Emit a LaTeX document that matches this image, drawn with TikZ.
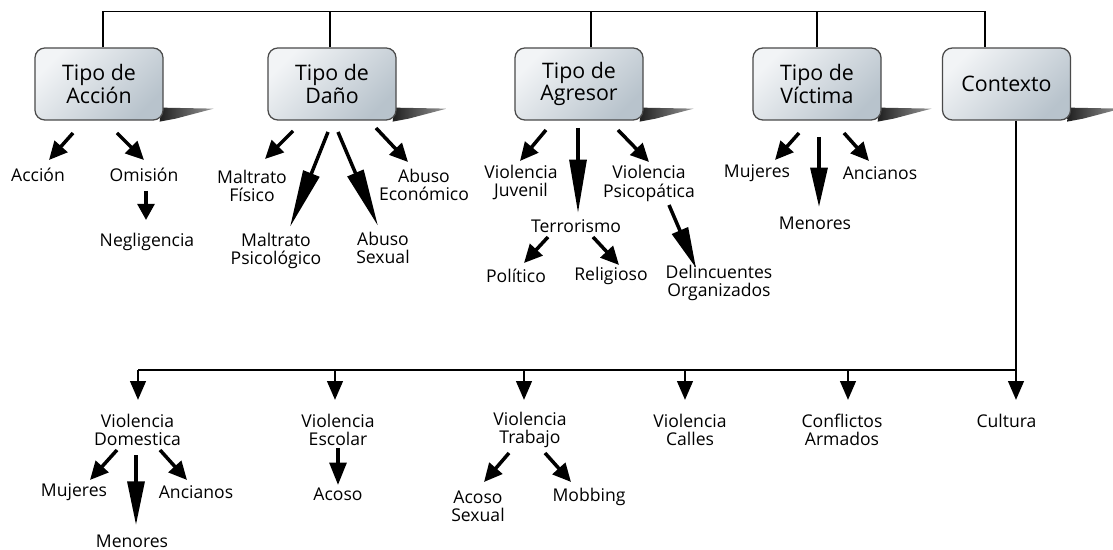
\documentclass[tikz,border=0pt]{standalone}
\usepackage{fontspec}
\setmainfont{Open Sans}
\usetikzlibrary{arrows.meta}
\pgfdeclarelayer{bg}
\pgfsetlayers{bg,main}
\definecolor{boxlight}{HTML}{F2F4F6}
\definecolor{boxdark}{HTML}{B8C3CC}
\definecolor{boxline}{HTML}{4A4A4A}

\tikzset{
    tipo/.style={draw=boxline,line width=0.9pt,rounded corners=7pt,
        top color=boxlight,bottom color=boxdark,shading angle=45,
        minimum width=3.2cm,minimum height=1.8cm,align=center,
        font=\fontsize{15.2}{15.8}\selectfont},
    lbl/.style={align=center,inner sep=1pt,font=\fontsize{12.5}{12.9}\selectfont},
    fat/.style={line width=2.5pt,-{Triangle[length=#1,width=12pt]}},
    fat/.default=13pt,
    drop/.style={line width=2.1pt,-{Triangle[length=13.5pt,width=11pt]}},
    thinline/.style={line width=1pt},
    thickline/.style={line width=2.1pt}
}

\begin{document}
\begin{tikzpicture}[x=0.025cm,y=-0.025cm]
            \useasboundingbox (0,0) rectangle (1113,550);

            \node[tipo] (acc) at (99,84) {Tipo de\\Acción};
            \node[tipo] (dano) at (332,84) {Tipo de\\Daño};
            \node[tipo] (agre) at (579,84) {Tipo de\\Agresor};
            \node[tipo] (vict) at (817,84) {Tipo de\\Víctima};
            \node[tipo] (cont) at (1006.5,84) {Contexto};

            \begin{pgfonlayer}{bg}
                \foreach \n in {acc,dano,agre,vict,cont}{
                    \shade[left color=black!88,right color=black!40]
                        ([shift={(-2,-13)}]\n.south east) -- ++(52,1)
                        -- ++(-38,10) -- ++(-16,3) -- cycle;
                }
            \end{pgfonlayer}

            \draw[thinline] ([shift={(4,0)}]acc.north) -- ++(0,-36)
                -| ([shift={(-21.5,0)}]cont.north);
            \foreach \n/\dx in {dano/-2,agre/12,vict/0}{
                \draw[thinline] ([shift={(\dx,0)}]\n.north) -- ++(0,-36);
            }

            \node[lbl] (lAccion) at (38,175) {Acción};
            \node[lbl] (lOmision) at (144,175) {Omisión};
            \node[lbl] (lNeg) at (147,242) {Negligencia};
            \node[lbl] (lFisico) at (252,185.5) {Maltrato\\Físico};
            \node[lbl] (lPsico) at (276,251) {Maltrato\\Psicológico};
            \node[lbl] (lSexual) at (383,248) {Abuso\\Sexual};
            \node[lbl] (lEcon) at (424,185) {Abuso\\Económico};
            \node[lbl] (lJuvenil) at (521,182.5) {Violencia\\Juvenil};
            \node[lbl] (lTerror) at (576,226) {Terrorismo};
            \node[lbl] (lPsicop) at (649,183.5) {Violencia\\Psicopática};
            \node[lbl] (lPolitico) at (516,276) {Político};
            \node[lbl] (lReligioso) at (611,276) {Religioso};
            \node[lbl] (lDelinc) at (719,283) {Delincuentes\\Organizados};
            \node[lbl] (lMujeres) at (757,173) {Mujeres};
            \node[lbl] (lMenores) at (815,223) {Menores};
            \node[lbl] (lAncianos) at (880,173) {Ancianos};

            \draw[fat] ([shift={(-26,49)}]acc.center) -- ([shift={(11,-15)}]lAccion.center);
            \draw[fat] ([shift={(18,49)}]acc.center) -- ([shift={(0,-15)}]lOmision.center);
            \draw[fat=11.5pt] ([shift={(2,16)}]lOmision.center) -- ([shift={(-1,-22)}]lNeg.center);
            \draw[fat] ([shift={(-39,47)}]dano.center) -- ([shift={(13,-26.5)}]lFisico.center);
            \draw[fat=41pt] ([shift={(-4,48)}]dano.center) -- ([shift={(14,-24)}]lPsico.center);
            \draw[fat=41pt] ([shift={(6,48)}]dano.center) -- ([shift={(-5,-22)}]lSexual.center);
            \draw[fat] ([shift={(44,44)}]dano.center) -- ([shift={(-16,-23)}]lEcon.center);
            \draw[fat] ([shift={(-33,46)}]agre.center) -- ([shift={(-1,-21.5)}]lJuvenil.center);
            \draw[fat=38pt] ([shift={(-1,44)}]agre.center) -- ([shift={(2,-13)}]lTerror.center);
            \draw[fat] ([shift={(39,46)}]agre.center) -- ([shift={(0,-21.5)}]lPsicop.center);
            \draw[fat] ([shift={(-28,11)}]lTerror.center) -- ([shift={(8,-13)}]lPolitico.center);
            \draw[fat] ([shift={(17,11)}]lTerror.center) -- ([shift={(8,-11)}]lReligioso.center);
            \draw[fat=29pt] ([shift={(20,21.5)}]lPsicop.center) -- ([shift={(-23,-15)}]lDelinc.center);
            \draw[fat] ([shift={(-18,49)}]vict.center) -- ([shift={(18,-13)}]lMujeres.center);
            \draw[fat=28pt] ([shift={(2,53)}]vict.center) -- ([shift={(4,-16)}]lMenores.center);
            \draw[fat] ([shift={(27,49)}]vict.center) -- ([shift={(-11,-12)}]lAncianos.center);

            \node[lbl] (lDom) at (137.5,430) {Violencia\\Domestica};
            \node[lbl] (lEsc) at (338,430) {Violencia\\Escolar};
            \node[lbl] (lTrab) at (530,430) {Violencia\\Trabajo};
            \node[lbl] (lCalles) at (690,430) {Violencia\\Calles};
            \node[lbl] (lConf) at (842,430) {Conflictos\\Armados};
            \node[lbl] (lCult) at (1006.5,421) {Cultura};
            \node[lbl] (lMuj2) at (74,492) {Mujeres};
            \node[lbl] (lMen2) at (132,541) {Menores};
            \node[lbl] (lAnc2) at (196,492) {Ancianos};
            \node[lbl] (lAcoso) at (338,494) {Acoso};
            \node[lbl] (lAcSex) at (478,506) {Acoso\\Sexual};
            \node[lbl] (lMobb) at (589,497) {Mobbing};

            \draw[thickline] ([shift={(9.5,0)}]cont.south) |- ([shift={(0.5,-60)}]lDom.center);
            \foreach \n/\dx/\dy in {lDom/0.5/-60,lEsc/-3/-60,lTrab/-6/-60,
                    lCalles/-5/-60,lConf/6/-60,lCult/9.5/-51}{
                \draw[drop] ([shift={(\dx,\dy)}]\n.center) -- ++(0,30);
            }

            \draw[fat] ([shift={(-20.5,20)}]lDom.center) -- ([shift={(16,-12)}]lMuj2.center);
            \draw[fat=31pt] ([shift={(-1.5,25)}]lDom.center) -- ([shift={(4,-16)}]lMen2.center);
            \draw[fat] ([shift={(22.5,20)}]lDom.center) -- ([shift={(-9,-12)}]lAnc2.center);
            \draw[fat=16pt] ([shift={(0,18)}]lEsc.center) -- ([shift={(0,-9)}]lAcoso.center);
            \draw[fat] ([shift={(-21,23)}]lTrab.center) -- ([shift={(6,-24)}]lAcSex.center);
            \draw[fat] ([shift={(15,23)}]lTrab.center) -- ([shift={(-18,-15)}]lMobb.center);
        \end{tikzpicture}
\end{document}
